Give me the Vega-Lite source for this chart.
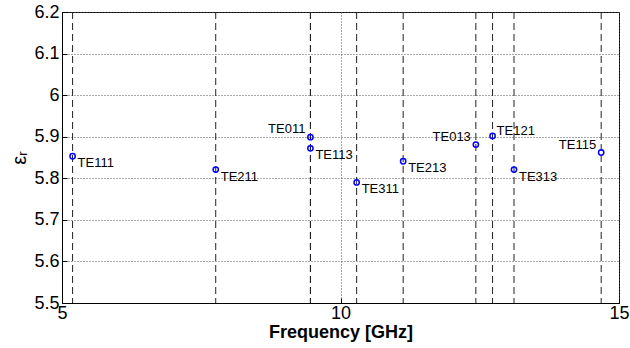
{
  "$schema": "https://vega.github.io/schema/vega-lite/v6.json",
  "width": 557,
  "height": 291,
  "autosize": "none",
  "padding": {"left": 62, "top": 12, "right": 11, "bottom": 45},
  "background": "white",
  "config": {
    "font": "Liberation Sans",
    "view": {"stroke": "black", "strokeWidth": 1}
  },
  "data": {
    "values": [
      {"mode": "TE111", "freq": 5.19, "er": 5.853},
      {"mode": "TE211", "freq": 7.76, "er": 5.821},
      {"mode": "TE011", "freq": 9.46, "er": 5.899},
      {"mode": "TE113", "freq": 9.46, "er": 5.872},
      {"mode": "TE311", "freq": 10.29, "er": 5.79},
      {"mode": "TE213", "freq": 11.125, "er": 5.841},
      {"mode": "TE013", "freq": 12.43, "er": 5.881},
      {"mode": "TE121", "freq": 12.73, "er": 5.902},
      {"mode": "TE313", "freq": 13.115, "er": 5.821},
      {"mode": "TE115", "freq": 14.68, "er": 5.862}
    ]
  },
  "encoding": {
    "x": {
      "field": "freq",
      "type": "quantitative",
      "scale": {"domain": [5, 15], "nice": false, "zero": false},
      "axis": {
        "values": [5, 10, 15],
        "title": "Frequency [GHz]",
        "titleFontSize": 18,
        "titleFontWeight": "bold",
        "titleColor": "black",
        "titlePadding": 1,
        "labelFontSize": 18,
        "labelColor": "black",
        "labelPadding": 6,
        "labelFlush": false,
        "domainColor": "black",
        "tickColor": "black",
        "tickSize": -5,
        "grid": true,
        "gridDash": [1, 2],
        "gridColor": "#555",
        "gridOpacity": 1
      }
    }
  },
  "layer": [
    {
      "mark": {"type": "rule", "color": "#222", "strokeDash": [7, 4], "strokeWidth": 1},
      "encoding": {}
    },
    {
      "mark": {"type": "point", "shape": "circle", "filled": false, "color": "#0000ff", "size": 28, "strokeWidth": 1.5, "opacity": 1},
      "encoding": {
        "y": {
          "field": "er",
          "type": "quantitative",
          "scale": {"domain": [5.5, 6.2], "nice": false, "zero": false},
          "axis": {
            "values": [5.5, 5.6, 5.7, 5.8, 5.9, 6.0, 6.1, 6.2],
            "format": "~g",
            "title": "εᵣ",
            "titleFontSize": 20,
            "titleFontWeight": "normal",
            "titleColor": "black",
            "titlePadding": 4,
            "labelFontSize": 18,
            "labelColor": "black",
            "labelPadding": 8,
            "labelFlush": false,
            "domainColor": "black",
            "tickColor": "black",
            "tickSize": -5,
            "grid": true,
            "gridDash": [1, 2],
            "gridColor": "#555",
            "gridOpacity": 1
          }
        }
      }
    },
    {
      "transform": [{"filter": {"field": "mode", "oneOf": ["TE111", "TE211", "TE113", "TE311", "TE213", "TE313"]}}],
      "mark": {"type": "text", "align": "left", "baseline": "middle", "dx": 5, "dy": 7, "fontSize": 13, "color": "black"},
      "encoding": {
        "y": {"field": "er", "type": "quantitative", "scale": {"domain": [5.5, 6.2], "nice": false, "zero": false}},
        "text": {"field": "mode"}
      }
    },
    {
      "transform": [{"filter": {"field": "mode", "oneOf": ["TE011", "TE013", "TE115"]}}],
      "mark": {"type": "text", "align": "right", "baseline": "middle", "dx": -5, "dy": -8, "fontSize": 13, "color": "black"},
      "encoding": {
        "y": {"field": "er", "type": "quantitative", "scale": {"domain": [5.5, 6.2], "nice": false, "zero": false}},
        "text": {"field": "mode"}
      }
    },
    {
      "transform": [{"filter": {"field": "mode", "oneOf": ["TE121"]}}],
      "mark": {"type": "text", "align": "left", "baseline": "middle", "dx": 4, "dy": -5, "fontSize": 13, "color": "black"},
      "encoding": {
        "y": {"field": "er", "type": "quantitative", "scale": {"domain": [5.5, 6.2], "nice": false, "zero": false}},
        "text": {"field": "mode"}
      }
    }
  ]
}
